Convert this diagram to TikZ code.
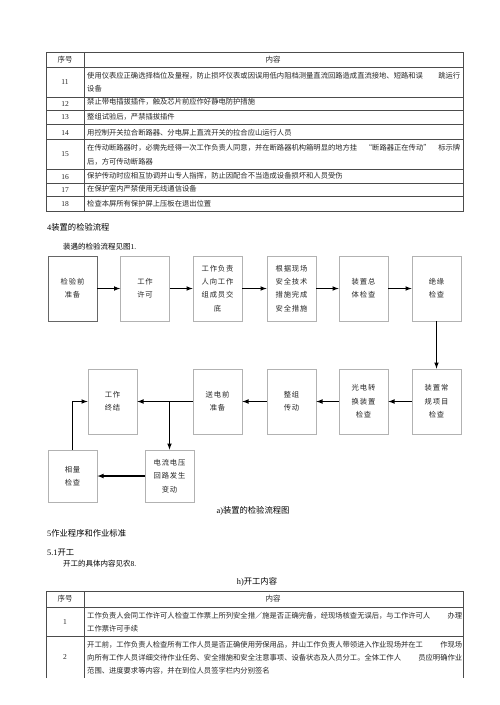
\documentclass[tikz,border=0pt]{standalone}
\usepackage{fontspec}
\setmainfont{Liberation Serif}
\newfontfamily\cjk{Noto Sans CJK SC}
\newfontfamily\boxfont[LetterSpace=12]{Noto Sans CJK SC}
\usepackage{tikz}

\begin{document}
\begin{tikzpicture}[x=1pt,y=-1pt,
  box/.style={draw=black!30,line width=0.8pt,minimum width=49pt,minimum height=65pt,
    inner sep=0pt,align=center,text=black!85,font=\boxfont\fontsize{7.3}{13.3}\selectfont},
  arr/.style={line width=1.1pt,-latex},
  rule/.style={draw=black!70,line width=0.6pt},
  cell/.style={anchor=west,inner sep=0pt,text=black!85,font=\cjk\fontsize{7.3}{9}\selectfont},
  num/.style={inner sep=0pt,text=black!85,font=\fontsize{7.5}{9}\selectfont},
  head/.style={anchor=west,inner sep=0pt,font=\fontsize{8.3}{10}\selectfont}]
\useasboundingbox[fill=white] (0,0) rectangle (500,705);

% table, rows 11 to 18
\draw[rule] (46,52) rectangle (463,211);
\draw[rule] (84,52) -- (84,211);
\foreach \y in {67,97,110,124,139,169,183,196}
  \draw[rule] (46,\y) -- (463,\y);
\node[num] (hnum) at (65,59.5) {\cjk 序号};
\node[num] (htxt) at (273,59.5) {\cjk 内容};
\foreach \n/\y in {11/82,12/104,13/117,14/133,15/154,16/177,17/190,18/204}
  \node[num] (n\n) at (65,\y) {\n};
\node[cell] (t11a) at (87,76) {\makebox[373pt][l]{使用仪表应正确选择档位及量程，防止损坏仪表或因误用低内阻档测量直流回路造成直流接地、短路和误\hfill 跳运行}};
\node[cell] (t11b) at (87,89) {设备};
\node[cell] (t12) at (87,102) {禁止带电插拔插件，触及芯片前应作好静电防护措施};
\node[cell] (t13) at (87,117) {整组试验后，严禁插拔插件};
\node[cell] (t14) at (87,133) {用控制开关拉合断路器、分电屏上直流开关的拉合应山运行人员};
\node[cell] (t15a) at (87,148) {\makebox[373pt][l]{在传动断路器时，必需先经得一次工作负责人同意，并在断路器机构箱明显的地方挂\hfill “断路器正在传动”\hfill 标示牌}};
\node[cell] (t15b) at (87,162) {后，方可传动断路器};
\node[cell] (t16) at (87,176) {保护传动时应相互协调并山专人指挥，防止因配合不当造成设备损坏和人员受伤};
\node[cell] (t17) at (87,189) {在保护室内严禁使用无线通信设备};
\node[cell] (t18) at (87,204) {检查本屏所有保护屏上压板在退出位置};

% section 4
\node[head] (sec4) at (47,227) {4{\cjk 装置的检验流程}};
\node[head,font=\fontsize{7.5}{9}\selectfont] (see1) at (63,247) {{\cjk 装遇的检验流程见图}1.};

% flow chart
\node[box,draw=black!60] (prep) at (72.5,288.5) {检验前\\准备};
\node[box] (permit) at (145,288.5) {工作\\许可};
\node[box] (brief) at (217.5,288.5) {工作负责\\人向工作\\组成员交\\底};
\node[box] (safety) at (291.5,288.5) {根据现场\\安全技术\\措施完成\\安全措施};
\node[box] (general) at (363.5,288.5) {装置总\\体检查};
\node[box] (insul) at (436.5,288.5) {绝缘\\检查};
\node[box] (routine) at (436.5,401.5) {装置常\\规项目\\检查};
\node[box] (optic) at (363.5,401.5) {光电转\\换装置\\检查};
\node[box] (whole) at (291.5,401.5) {整组\\传动};
\node[box] (energize) at (217.5,401.5) {送电前\\准备};
\node[box] (finish) at (112.5,401.5) {工作\\终结};
\node[box,minimum height=52pt] (phasor) at (72.5,476) {相量\\检查};
\node[box,minimum height=52pt] (circuit) at (169.5,476) {电流电压\\回路发生\\变动};

\draw[arr] (prep) -- (permit);
\draw[arr] (permit) -- (brief);
\draw[arr] (brief) -- (safety);
\draw[arr] (safety) -- (general);
\draw[arr] (general) -- (insul);
\draw[arr] (insul) -- (routine);
\draw[arr] (routine) -- (optic);
\draw[arr] (optic) -- (whole);
\draw[arr] (whole) -- (energize);
\draw[arr] (energize) -- (finish);
\draw[arr] (circuit.north |- energize.west) -- (circuit.north);
\draw[arr] (circuit) -- (phasor);
\draw[arr] (phasor.north) |- (finish.west);

\node[inner sep=0pt,font=\fontsize{8.3}{10}\selectfont] (capa) at (253,511) {a){\cjk 装置的检验流程图}};

% section 5
\node[head] (sec5) at (47,533) {5{\cjk 作业程序和作业标准}};
\node[head] (sec51) at (47,553) {5.1{\cjk 开工}};
\node[head,font=\fontsize{7.5}{9}\selectfont] (see8) at (63,564) {{\cjk 开工的具体内容见农}8.};
\node[inner sep=0pt,font=\fontsize{8.3}{10}\selectfont] (caph) at (257,582) {h){\cjk 开工内容}};

% table, rows 1 and 2
\draw[rule] (46,678) -- (46,591) -- (463,591) -- (463,678);
\draw[rule] (84,591) -- (84,678);
\draw[rule] (46,607) -- (463,607);
\draw[rule] (46,636) -- (463,636);
\node[num] (hnum2) at (65,599) {\cjk 序号};
\node[num] (htxt2) at (273,599) {\cjk 内容};
\node[num] (m1) at (65,622) {1};
\node[num] (m2) at (65,657) {2};
\node[cell] (u1a) at (87,616) {\makebox[375pt][l]{工作负责人会同工作许可人检查工作票上所列安全措／施是否正确完备，经现场核查无误后，与工作许可人\hfill 办理}};
\node[cell] (u1b) at (87,629) {工作票许可手续};
\node[cell] (u2a) at (87,645) {\makebox[375pt][l]{开工前，工作负责人检查所有工作人员是否正确使用劳保用品，并山工作负责人带领进入作业现场并在工\hfill 作现场}};
\node[cell] (u2b) at (87,658) {\makebox[375pt][l]{向所有工作人员详细交待作业任务、安全措施和安全注意事项、设备状态及人员分工。全体工作人\hfill 员应明确作业}};
\node[cell] (u2c) at (87,671) {范围、进度要求等内容，并在到位人员签字栏内分别签名};
\end{tikzpicture}
\end{document}
